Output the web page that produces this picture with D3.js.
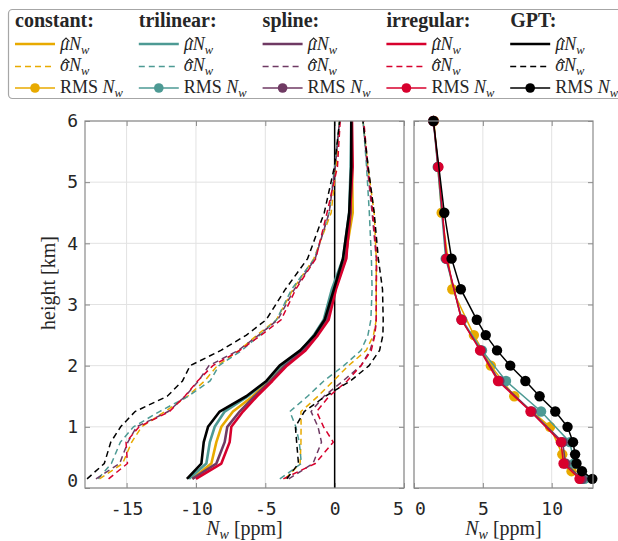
<!DOCTYPE html>
<html>
<head>
<meta charset="utf-8">
<script src="https://cdn.jsdelivr.net/npm/d3@7"></script>
<style>
  body { margin: 0; background: #fff; }
  svg { display: block; }
  .tick text { font-family: "DejaVu Sans Mono", monospace; font-size: 18px; fill: #262626; }
  .serif { font-family: "Liberation Serif", "DejaVu Serif", serif; fill: #262626; }
</style>
</head>
<body>
<svg id="chart" width="618" height="541"></svg>
<script>
// Höhenstufen der linken Profile (km)
const heights = [0.15, 0.4, 0.75, 1.0, 1.25, 1.5, 1.75, 2.0, 2.25, 2.5, 2.75, 3.25, 3.75, 4.5, 5.25, 6.0];

const meanConstant  = [-10.26, -8.89, -8.53, -8.17, -7.33, -5.9, -4.74, -3.73, -2.3, -1.4, -0.6, 0.0, 0.75, 1.3, 1.25, 1.2];
const sigmaConstant = [6.7, 6.4, 6.1, 5.75, 4.9, 4.7, 4.64, 4.73, 4.58, 4.2, 3.6, 3.0, 2.25, 1.55, 1.15, 0.85];
const meanTrilinear  = [-10.5, -9.25, -9.0, -8.65, -7.93, -6.25, -4.88, -3.84, -2.4, -1.5, -0.79, -0.2, 0.6, 1.05, 1.15, 1.2];
const sigmaTrilinear = [6.55, 6.85, 6.45, 5.85, 4.7, 4.3, 4.1, 4.5, 4.3, 3.9, 3.4, 2.9, 2.05, 1.45, 1.15, 0.85];
const meanSpline  = [-10.26, -8.53, -7.93, -7.74, -6.85, -5.77, -4.61, -3.58, -2.2, -1.3, -0.55, 0.05, 0.8, 1.15, 1.2, 1.2];
const sigmaSpline = [6.95, 6.97, 6.98, 6.54, 5.15, 5.0, 5.21, 5.48, 4.75, 4.18, 3.55, 2.95, 2.2, 1.55, 1.15, 0.85];
const meanIrregular  = [-10.0, -8.17, -7.57, -7.45, -6.61, -5.6, -4.49, -3.44, -2.1, -1.2, -0.43, 0.1, 0.84, 1.1, 1.3, 1.25];
const sigmaIrregular = [6.3, 6.77, 7.47, 6.65, 5.31, 5.2, 5.39, 5.34, 4.74, 4.1, 3.43, 2.9, 2.2, 1.65, 1.1, 0.85];
const meanGPT  = [-10.65, -9.61, -9.44, -9.13, -8.29, -6.37, -4.92, -3.97, -2.48, -1.44, -0.72, -0.05, 0.6, 1.05, 1.2, 1.2];
const sigmaGPT = [7.2, 7.0, 6.7, 6.3, 6.1, 5.7, 6.05, 6.45, 5.72, 4.92, 4.22, 3.5, 2.55, 1.8, 1.22, 0.84];

// RMS (rechts), jede Methode mit eigenen Markerhöhen
const rmsHeightsConstant = [6, 4.5, 3.25, 2.5, 2.0, 1.5, 1.0, 0.55, 0.275, 0.15];
const rmsConstant = [1.45, 2.01, 2.78, 4.35, 5.58, 7.28, 9.88, 10.77, 11.44, 12.1];
const rmsHeightsOther = [6, 5.25, 3.75, 2.75, 2.25, 1.75, 1.25, 0.75, 0.4, 0.15];
const rmsTrilinear = [1.41, 1.72, 2.3, 3.5, 4.94, 6.68, 9.23, 11.32, 11.63, 12.38];
const rmsSpline    = [1.41, 1.75, 2.35, 3.45, 4.85, 6.2, 8.55, 10.8, 11.0, 12.2];
const rmsIrregular = [1.41, 1.77, 2.37, 3.45, 4.8, 6.1, 8.46, 10.67, 10.86, 12.02];
const rmsHeightsGPT = [6, 4.5, 3.75, 3.25, 2.75, 2.5, 2.25, 2.0, 1.75, 1.5, 1.25, 1.0, 0.75, 0.55, 0.4, 0.275, 0.15];
const rmsGPT = [1.41, 2.2, 2.73, 3.4, 4.56, 5.21, 6.03, 6.99, 8.09, 9.12, 10.26, 11.15, 11.55, 11.7, 11.8, 12.2, 12.95];

const methodNames = ["constant:", "trilinear:", "spline:", "irregular:", "GPT:"];
const methodColors = ["#e8aa00", "#4d9a94", "#6f3a63", "#d7002d", "#000000"];

const yTicks = [0, 1, 2, 3, 4, 5, 6];
const xTicksLeft = [-15, -10, -5, 0, 5];
const xTicksRight = [0, 5, 10];

const methods = [
  { mean: meanConstant, sigma: sigmaConstant, rh: rmsHeightsConstant, rms: rmsConstant },
  { mean: meanTrilinear, sigma: sigmaTrilinear, rh: rmsHeightsOther, rms: rmsTrilinear },
  { mean: meanSpline, sigma: sigmaSpline, rh: rmsHeightsOther, rms: rmsSpline },
  { mean: meanIrregular, sigma: sigmaIrregular, rh: rmsHeightsOther, rms: rmsIrregular },
  { mean: meanGPT, sigma: sigmaGPT, rh: rmsHeightsGPT, rms: rmsGPT }
];

const svg = d3.select("#chart");
const plotTop = 121, plotBottom = 488;
const y = d3.scaleLinear([0, 6], [plotBottom, plotTop]);
const xL = d3.scaleLinear([-18, 5], [85, 404]);
const xR = d3.scaleLinear([0, 13], [414, 593]);

const fmt = d => d < 0 ? "-" + (-d) : String(d);

function drawFrame(x, xTicks, showY, clipId) {
  const [x0, x1] = x.range();
  const g = svg.append("g");

  svg.append("clipPath").attr("id", clipId)
    .append("rect").attr("x", x0).attr("y", plotTop).attr("width", x1 - x0).attr("height", plotBottom - plotTop);

  // Gitter
  g.selectAll(".gx").data(xTicks).join("line")
    .attr("x1", d => x(d)).attr("x2", d => x(d)).attr("y1", plotTop).attr("y2", plotBottom)
    .attr("stroke", "#e2e2e2").attr("stroke-width", 1);
  g.selectAll(".gy").data(yTicks).join("line")
    .attr("x1", x0).attr("x2", x1).attr("y1", d => y(d)).attr("y2", d => y(d))
    .attr("stroke", "#e2e2e2").attr("stroke-width", 1);

  const ax = svg.append("g").attr("transform", `translate(0,${plotBottom})`)
    .call(d3.axisBottom(x).tickValues(xTicks).tickSize(-5).tickPadding(14).tickFormat(fmt));
  const axTop = svg.append("g").attr("transform", `translate(0,${plotTop})`)
    .call(d3.axisTop(x).tickValues(xTicks).tickSize(-5).tickFormat(""));
  const ay = svg.append("g").attr("transform", `translate(${x0},0)`)
    .call(d3.axisLeft(y).tickValues(yTicks).tickSize(-5).tickPadding(7).tickFormat(showY ? fmt : ""));
  const ayR = svg.append("g").attr("transform", `translate(${x1},0)`)
    .call(d3.axisRight(y).tickValues(yTicks).tickSize(-5).tickFormat(""));

  [ax, axTop, ay, ayR].forEach(a => {
    a.select(".domain").remove();
    a.selectAll(".tick line").attr("stroke", "#8a8a8a");
  });
  return { g, ax, ay };
}

const left = drawFrame(xL, xTicksLeft, true, "clipL");
const right = drawFrame(xR, xTicksRight, false, "clipR");

// Randbeschriftungen etwas einrücken wie im Original
left.ax.selectAll(".tick text").filter(d => d === 5).attr("dx", -6);
right.ax.selectAll(".tick text").filter(d => d === 0).attr("dx", 6);
left.ay.selectAll(".tick text").filter(d => d === 0).attr("dy", "-0.08em");

// Nulllinie
svg.append("line")
  .attr("x1", xL(0)).attr("x2", xL(0)).attr("y1", plotTop).attr("y2", plotBottom)
  .attr("stroke", "#000").attr("stroke-width", 1.5);

const lineL = d3.line().x(d => xL(d[0])).y(d => y(d[1]));
const lineR = d3.line().x(d => xR(d[0])).y(d => y(d[1]));

const profiles = svg.append("g").attr("clip-path", "url(#clipL)");
methods.forEach((m, i) => {
  const col = methodColors[i];
  const lo = heights.map((h, k) => [m.mean[k] - m.sigma[k], h]);
  const hi = heights.map((h, k) => [m.mean[k] + m.sigma[k], h]);
  const mu = heights.map((h, k) => [m.mean[k], h]);
  [lo, hi].forEach(pts => {
    profiles.append("path").attr("d", lineL(pts))
      .attr("fill", "none").attr("stroke", col).attr("stroke-width", 1.5)
      .attr("stroke-dasharray", "6,4");
  });
  profiles.append("path").attr("d", lineL(mu))
    .attr("fill", "none").attr("stroke", col).attr("stroke-width", 2.6)
    .attr("stroke-linejoin", "round");
});

const rmsG = svg.append("g");
methods.forEach((m, i) => {
  const col = methodColors[i];
  const pts = m.rh.map((h, k) => [m.rms[k], h]);
  rmsG.append("path").attr("d", lineR(pts))
    .attr("fill", "none").attr("stroke", col).attr("stroke-width", 1.5);
  rmsG.selectAll(null).data(pts).join("circle")
    .attr("cx", d => xR(d[0])).attr("cy", d => y(d[1])).attr("r", 5.2)
    .attr("fill", col);
});

// Rahmen
[xL, xR].forEach(x => {
  const [x0, x1] = x.range();
  svg.append("rect").attr("x", x0).attr("y", plotTop).attr("width", x1 - x0).attr("height", plotBottom - plotTop)
    .attr("fill", "none").attr("stroke", "#8a8a8a").attr("stroke-width", 1.2);
});

// Achsentitel
function nwLabel(cx) {
  const t = svg.append("text").attr("class", "serif").attr("x", cx).attr("y", 535)
    .attr("text-anchor", "middle").attr("font-size", 20);
  t.append("tspan").attr("font-style", "italic").text("N");
  t.append("tspan").attr("font-style", "italic").attr("font-size", 14).attr("dy", 4).text("w");
  t.append("tspan").attr("dy", -4).text(" [ppm]");
}
nwLabel((xL.range()[0] + xL.range()[1]) / 2);
nwLabel((xR.range()[0] + xR.range()[1]) / 2);

svg.append("text").attr("class", "serif")
  .attr("transform", "translate(55,283) rotate(-90)")
  .attr("text-anchor", "middle").attr("font-size", 20)
  .text("height [km]");

// Legende
svg.append("rect").attr("x", 8.5).attr("y", 9.5).attr("width", 640).attr("height", 89)
  .attr("rx", 4).attr("fill", "#fff").attr("stroke", "#a6a6a6").attr("stroke-width", 1.2);

// Symbol mit Dach (μ̂, σ̂) gefolgt von N_w
function hatLabel(g, x, yb, sym) {
  const t = g.append("text").attr("class", "serif").attr("x", x).attr("y", yb).attr("font-size", 18);
  const s = t.append("tspan").attr("font-style", "italic").text(sym);
  t.append("tspan").attr("font-style", "italic").text("N");
  t.append("tspan").attr("font-style", "italic").attr("font-size", 12.5).attr("dy", 3.5).text("w");
  const w = s.node().getComputedTextLength();
  const hx = x + w / 2 + 1.5;
  g.append("path")
    .attr("d", `M${hx - 3.5},${yb - 8.5} L${hx},${yb - 12} L${hx + 3.5},${yb - 8.5}`)
    .attr("fill", "none").attr("stroke", "#262626").attr("stroke-width", 1.1);
}

methodNames.forEach((name, i) => {
  const cx = 15 + i * 123.8;
  const col = methodColors[i];
  const lg = svg.append("g");
  lg.append("text").attr("class", "serif").attr("x", cx).attr("y", 27)
    .attr("font-size", 20).attr("font-weight", "bold").text(name);

  lg.append("line").attr("x1", cx).attr("x2", cx + 40).attr("y1", 44).attr("y2", 44)
    .attr("stroke", col).attr("stroke-width", 2.6);
  hatLabel(lg, cx + 45, 50, "\u03bc");

  lg.append("line").attr("x1", cx).attr("x2", cx + 40).attr("y1", 66.5).attr("y2", 66.5)
    .attr("stroke", col).attr("stroke-width", 1.5).attr("stroke-dasharray", "6,4");
  hatLabel(lg, cx + 45, 71, "\u03c3");

  lg.append("line").attr("x1", cx).attr("x2", cx + 40).attr("y1", 88).attr("y2", 88)
    .attr("stroke", col).attr("stroke-width", 1.5);
  lg.append("circle").attr("cx", cx + 20).attr("cy", 88).attr("r", 4.8).attr("fill", col);
  const t3 = lg.append("text").attr("class", "serif").attr("x", cx + 45).attr("y", 93).attr("font-size", 18);
  t3.append("tspan").text("RMS ");
  t3.append("tspan").attr("font-style", "italic").text("N");
  t3.append("tspan").attr("font-style", "italic").attr("font-size", 12.5).attr("dy", 3.5).text("w");
});
</script>
</body>
</html>
